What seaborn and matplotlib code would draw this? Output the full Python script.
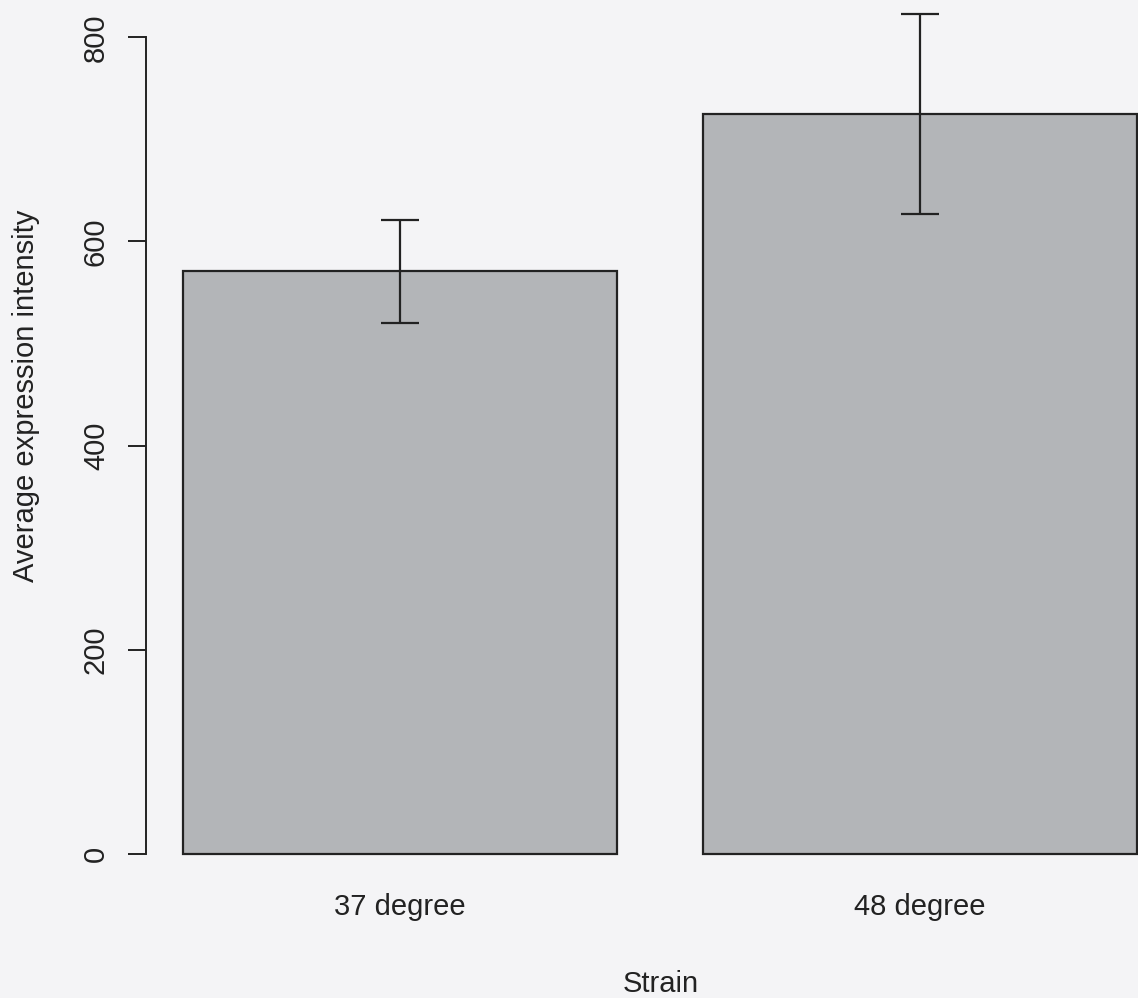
import matplotlib
matplotlib.use("Agg")
import matplotlib.pyplot as plt
import seaborn as sns
import numpy as np

# Data
categories = ["37 degree", "48 degree"]
means = [571, 725]
errors = [50.5, 98]
yticks = [0, 200, 400, 600, 800]
xlabel = "Strain"
ylabel = "Average expression intensity"

W, H = 1138, 998
BG = "#f4f4f6"
INK = "#222222"
BAR = "#b3b5b8"

sns.set_theme(style="white")
plt.rcParams["font.family"] = ["Liberation Sans", "DejaVu Sans"]

fig = plt.figure(figsize=(W / 100, H / 100), dpi=100, facecolor=BG)
# axes: left at x=146px, bottom (value 0) at y=854px, to the right/top edges
ax = fig.add_axes([146 / W, (H - 854) / H, (W - 146) / W, 854 / H])
ax.set_facecolor("none")

sns.barplot(x=categories, y=means, color=BAR, saturation=1, width=1 / 1.2,
            edgecolor=INK, linewidth=1.6, ax=ax, errorbar=None)
for p in ax.patches:
    p.set_clip_on(False)

ax.errorbar(x=np.arange(len(categories)), y=means, yerr=errors, fmt="none",
            ecolor=INK, elinewidth=1.6, capsize=13.7, capthick=1.6,
            clip_on=False, zorder=5)

px_per_unit = 520
ax.set_xlim(-(400 - 146) / px_per_unit, 1 + (W - 920) / px_per_unit)
ax.set_ylim(0, 854 / 1.0209)

for s in ["top", "right", "bottom"]:
    ax.spines[s].set_visible(False)
ax.spines["left"].set_bounds(0, 800)
ax.spines["left"].set_color(INK)
ax.spines["left"].set_linewidth(1.4)

ax.set_yticks(yticks)
ax.set_yticklabels([str(t) for t in yticks], rotation=90, va="center")
ax.tick_params(axis="y", direction="out", length=13, width=1.4, color=INK,
               pad=13, labelsize=21, labelcolor=INK, left=True)
ax.tick_params(axis="x", length=0, pad=28, labelsize=21, labelcolor=INK)
ax.set_xlabel("")
ax.set_ylabel("")

fig.text(661 / W, (H - 992) / H, xlabel, ha="center", va="baseline",
         fontsize=21, color=INK)
fig.text(26 / W, (H - 396) / H, ylabel, ha="center", va="center",
         rotation=90, fontsize=21, color=INK)

fig.savefig("out.png", dpi=100, facecolor=BG)
